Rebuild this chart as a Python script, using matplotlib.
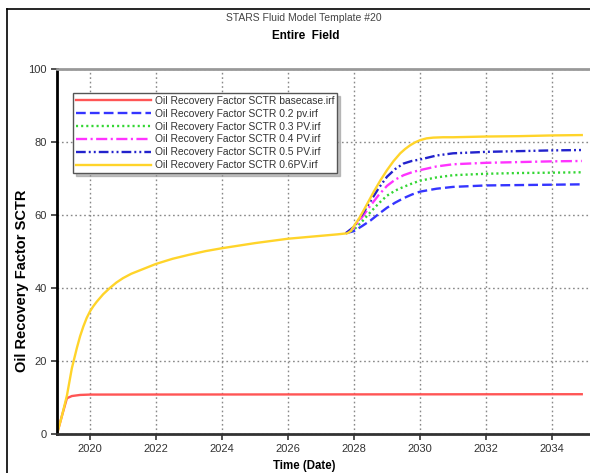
import matplotlib
matplotlib.use("Agg")
import matplotlib.pyplot as plt
from matplotlib.lines import Line2D

plt.rcParams['font.family'] = ['Liberation Sans', 'DejaVu Sans']
plt.rcParams['lines.scale_dashes'] = False

# ---- data (decimal years, recovery factor %) ----
t_base = [2019.0, 2019.15, 2019.3, 2019.45, 2019.7, 2020.0, 2034.9]
rf_base = [0, 5.0, 9.8, 10.4, 10.7, 10.8, 10.9]

t_06 = [2019.0, 2019.15, 2019.3, 2019.45, 2019.6, 2019.7, 2019.8, 2019.9, 2020.0,
        2020.1, 2020.2, 2020.4, 2020.6, 2020.8, 2021.0, 2021.25, 2021.5, 2022.0,
        2022.5, 2023.0, 2023.5, 2024.0, 2025.0, 2026.0, 2027.0, 2027.5, 2027.8,
        2027.9, 2028.0, 2028.15, 2028.3, 2028.45, 2028.6, 2028.8, 2029.0, 2029.2,
        2029.4, 2029.55, 2029.7, 2029.85, 2030.0, 2030.2, 2030.4, 2030.7, 2031.0,
        2032.0, 2033.0, 2034.0, 2034.9]
rf_06 = [0, 5.0, 10.5, 18.0, 23.5, 26.8, 29.5, 31.8, 33.6,
         35.0, 36.2, 38.3, 40.0, 41.5, 42.7, 43.9, 44.8, 46.6,
         48.0, 49.1, 50.1, 50.9, 52.3, 53.5, 54.3, 54.7, 55.0,
         55.6, 57.0, 59.0, 61.4, 63.9, 66.4, 69.5, 72.3, 74.8,
         76.9, 78.1, 79.1, 79.9, 80.5, 81.0, 81.2, 81.3, 81.3,
         81.5, 81.6, 81.8, 81.9]

# the sensitivity cases branch off the 0.6PV curve near end of 2027
t_case = [2027.75, 2028.0, 2028.25, 2028.5, 2028.75, 2029.0, 2029.25, 2029.5,
          2029.75, 2030.0, 2030.5, 2031.0, 2032.0, 2033.0, 2034.0, 2034.9]
rf_02 = [55.0, 55.6, 57.0, 58.5, 60.3, 62.0, 63.4, 64.6,
         65.6, 66.4, 67.2, 67.7, 68.1, 68.2, 68.3, 68.4]
rf_03 = [55.0, 56.0, 58.3, 60.8, 63.2, 65.3, 66.7, 67.7,
         68.6, 69.4, 70.3, 70.9, 71.3, 71.5, 71.6, 71.7]
rf_04 = [55.0, 56.5, 59.5, 62.6, 65.5, 68.0, 69.7, 70.9,
         71.7, 72.3, 73.3, 73.9, 74.3, 74.5, 74.7, 74.8]
rf_05 = [55.0, 56.8, 60.2, 63.8, 67.4, 70.5, 72.6, 74.1,
         74.8, 75.2, 76.3, 76.9, 77.3, 77.5, 77.7, 77.8]

labels = ['Oil Recovery Factor SCTR basecase.irf',
          'Oil Recovery Factor SCTR 0.2 pv.irf',
          'Oil Recovery Factor SCTR 0.3 PV.irf',
          'Oil Recovery Factor SCTR 0.4 PV.irf',
          'Oil Recovery Factor SCTR 0.5 PV.irf',
          'Oil Recovery Factor SCTR 0.6PV.irf']
years = [2020, 2022, 2024, 2026, 2028, 2030, 2032, 2034]

fig = plt.figure(figsize=(5.9, 4.73), dpi=100)
ax = fig.add_axes([57 / 590, 1 - 434 / 473, 533 / 590, 365 / 473])

lw = 1.7
ax.plot(t_base, rf_base, color='#ff5555', lw=lw, label=labels[0])
ax.plot(t_case, rf_02, color='#3535ff', lw=lw, dashes=(7, 3), label=labels[1])
ax.plot(t_case, rf_03, color='#33d633', lw=lw, dashes=(1.5, 2.2), label=labels[2])
ax.plot(t_case, rf_04, color='#ff33ff', lw=lw, dashes=(8, 2.5, 1.5, 2.5), label=labels[3])
ax.plot(t_case, rf_05, color='#2222cc', lw=lw, dashes=(7, 2.2, 1.4, 2.2, 1.4, 2.2), label=labels[4])
ax.plot(t_06, rf_06, color='#ffd42a', lw=lw, label=labels[5])

ax.set_xlim(2019.0, 2035.15)
ax.set_ylim(0, 100)
ax.set_xticks(years)
ax.set_yticks([0, 20, 40, 60, 80, 100])
ax.tick_params(labelsize=8, colors='#333333', length=4, width=1.2, direction='out')
ax.grid(True, color='#888888', ls=(0, (1.2, 2)), lw=1)

ax.spines['right'].set_visible(False)
ax.spines['top'].set_color('#999999')
ax.spines['top'].set_linewidth(2)
ax.spines['left'].set_linewidth(2)
ax.spines['bottom'].set_linewidth(2)
ax.spines['bottom'].set_color('#333333')

leg = ax.legend(loc='upper left', bbox_to_anchor=(0.03, 0.935), fontsize=7.4,
                handlelength=7.3, handletextpad=0.35, labelspacing=0.28,
                borderpad=0.3, borderaxespad=0, fancybox=False,
                shadow={'color': '#999999', 'alpha': 0.6, 'ox': 2, 'oy': -2},
                framealpha=1)
leg.get_frame().set_edgecolor('#555555')
leg.get_frame().set_linewidth(1)
for txt in leg.get_texts():
    txt.set_color('#333333')

fig.text(304 / 590, 1 - 18 / 473, 'STARS Fluid Model Template #20', ha='center',
         va='center', fontsize=7.5, color='#444444')
fig.text(306 / 590, 1 - 36 / 473, 'Entire  Field', ha='center', va='center',
         fontsize=8.5, fontweight='bold')
fig.text(304 / 590, 1 - 466 / 473, 'Time (Date)', ha='center', va='center',
         fontsize=8.3, fontweight='bold')
fig.text(22 / 590, 1 - 281 / 473, 'Oil Recovery Factor SCTR', ha='center',
         va='center', rotation=90, fontsize=10.5, fontweight='bold')

# screenshot frame lines along top and left
fig.add_artist(Line2D([7 / 590, 1], [1 - 9.5 / 473] * 2, color='black', lw=1.2))
fig.add_artist(Line2D([7 / 590] * 2, [0, 1 - 9.5 / 473], color='black', lw=1.2))

fig.savefig('out.png', dpi=100)
